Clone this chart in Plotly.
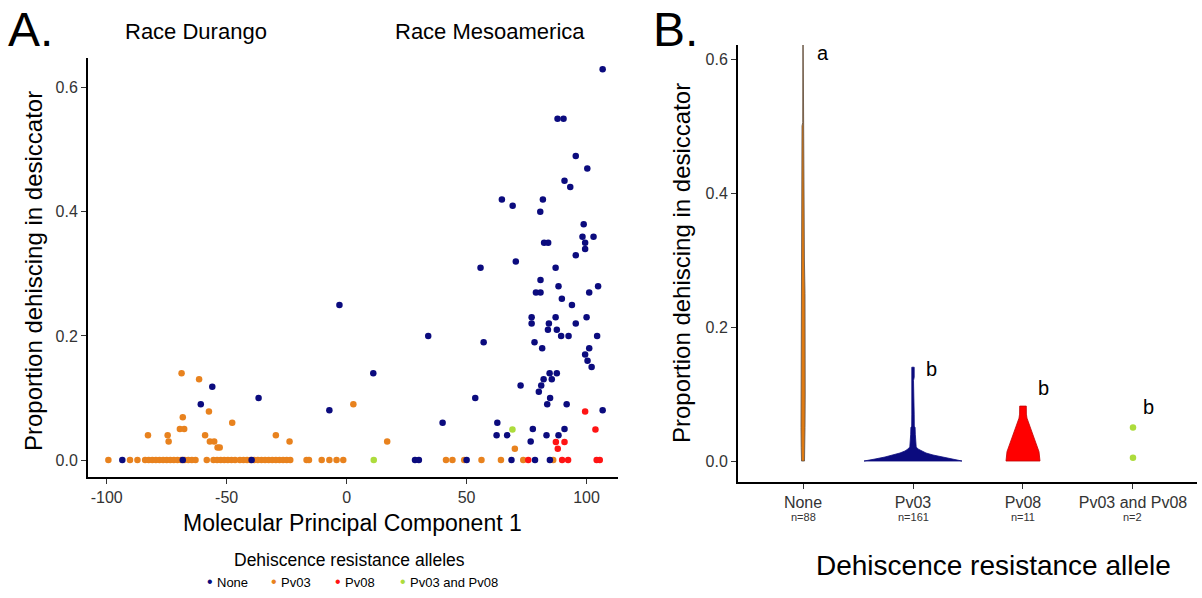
import plotly.graph_objects as go

FONT = "Liberation Sans, Arial, sans-serif"

# ---------------- Panel A data (PC1 vs proportion dehiscing) ----------------
none_pc1 = [-93.5, -68.3, -39.6, 28.5, 30.1, 50.0, 68.7, 78.5, 84.7,
            -56.0, -60.8, -36.7, -7.2, 11.1, -3.0, 34.0, 40.0, 53.6, 55.8, 57.1,
            62.8, 62.5, 66.9, 77.6, 76.7, 83.3, 88.3, 90.8, 106.7,
            72.5, 80.1, 81.1, 82.1, 85.5, 84.6, 87.6, 84.8, 83.6, 91.7,
            70.5, 87.1, 80.8, 78.9, 80.8, 88.3, 101.1, 104.8, 89.7, 93.9,
            77.1, 77.1, 87.1, 84.3, 83.9, 87.6, 95.5, 100.0, 89.4, 92.5, 104.4,
            78.3, 81.5, 101.1, 99.4, 100.4, 102.1, 95.5, 99.4,
            106.7, 87.9, 90.4, 95.5, 100.3, 90.8, 93.2, 64.7, 69.2, 81.8, 80.7,
            98.8, 98.3, 102.9, 99.4, 82.3, 84.0]
none_prop = [0.0, 0.0, 0.0, 0.0, 0.0, 0.0, 0.0, 0.0, 0.0,
             0.118, 0.09, 0.10, 0.08, 0.14, 0.25, 0.20, 0.06, 0.10, 0.31, 0.19,
             0.06, 0.04, 0.04, 0.05, 0.03, 0.04, 0.04, 0.05, 0.08,
             0.12, 0.11, 0.12, 0.13, 0.13, 0.14, 0.14, 0.10, 0.09, 0.09,
             0.32, 0.31, 0.29, 0.27, 0.27, 0.28, 0.27, 0.28, 0.26, 0.25,
             0.23, 0.22, 0.23, 0.22, 0.21, 0.21, 0.22, 0.23, 0.20, 0.20, 0.20,
             0.19, 0.18, 0.18, 0.17, 0.16, 0.15, 0.33, 0.34,
             0.63, 0.55, 0.55, 0.49, 0.47, 0.45, 0.44, 0.42, 0.41, 0.42, 0.40,
             0.38, 0.36, 0.36, 0.35, 0.35, 0.35]

pv03_pc1 = [-99.3, -90.3, -87.2,
            -84.0, -82.5, -81.0, -79.5, -78.0, -76.5, -75.0, -73.5, -72.0, -70.5, -69.0, -67.5, -66.0, -64.5, -63.0,
            -58.3, -55.5, -54.0, -52.5, -51.0, -49.5, -48.0, -46.5,
            -44.5, -43.0, -41.5, -40.0, -38.5, -37.0,
            -35.5, -34.0, -32.5, -31.0, -29.5, -28.0, -26.5, -25.0, -23.5,
            -16.7, -15.7, -10.4, -7.2, -4.2, -1.4,
            41.4, 44.1, 49.0, 56.2, 64.3, 73.6, 86.1,
            -68.8, -61.5, -57.4, -68.3, -69.5, -67.7, -47.7, -82.8, -74.6, -74.2,
            -59.0, -57.0, -55.2, -53.8, -52.9, -29.5, -23.8, 2.8, 16.9, 70.1]
pv03_prop = [0.0, 0.0, 0.0,
             0.0, 0.0, 0.0, 0.0, 0.0, 0.0, 0.0, 0.0, 0.0, 0.0, 0.0, 0.0, 0.0, 0.0, 0.0,
             0.0, 0.0, 0.0, 0.0, 0.0, 0.0, 0.0, 0.0,
             0.0, 0.0, 0.0, 0.0, 0.0, 0.0,
             0.0, 0.0, 0.0, 0.0, 0.0, 0.0, 0.0, 0.0, 0.0,
             0.0, 0.0, 0.0, 0.0, 0.0, 0.0,
             0.0, 0.0, 0.0, 0.0, 0.0, 0.0, 0.0,
             0.14, 0.13, 0.078, 0.069, 0.05, 0.05, 0.06, 0.04, 0.04, 0.03,
             0.04, 0.03, 0.03, 0.02, 0.02, 0.04, 0.03, 0.09, 0.03, 0.018]

pv08_pc1 = [75.7, 89.8, 92.3, 104.2, 105.5, 99.4, 103.7, 87.2, 90.8, 88.0]
pv08_prop = [0.0, 0.0, 0.0, 0.0, 0.0, 0.078, 0.049, 0.029, 0.029, 0.018]

both_pc1 = [11.3, 69.1]
both_prop = [0.0, 0.049]

pc1_ticks = [-100, -50, 0, 50, 100]
pc1_tick_labels = ["-100", "-50", "0", "50", "100"]
prop_ticks = [0.0, 0.2, 0.4, 0.6]

legend_labels = ["None", "Pv03", "Pv08", "Pv03 and Pv08"]
colors = {"None": "#0B0B7E", "Pv03": "#E8821E", "Pv08": "#FF1414", "Pv03 and Pv08": "#ADDC3C"}

# ---------------- Panel B data (violin density profiles) ----------------
categories = ["None", "Pv03", "Pv08", "Pv03 and Pv08"]
n_labels = ["n=88", "n=161", "n=11", "n=2"]
letters = ["a", "b", "b", "b"]

none_levels = [0.0, 0.02, 0.05, 0.10, 0.15, 0.20, 0.25, 0.30, 0.35, 0.40, 0.45, 0.50, 0.505, 0.55, 0.63]
none_density = [1.5, 1.8, 2.0, 2.2, 2.2, 2.2, 2.0, 1.4, 1.3, 1.2, 1.1, 1.0, 0.3, 0.2, 0.15]

pv03_levels = [0.0, 0.003, 0.006, 0.009, 0.012, 0.015, 0.018, 0.021, 0.03, 0.04, 0.05, 0.052,
               0.07, 0.09, 0.093, 0.12, 0.125, 0.14]
pv03_density = [49, 38, 28, 20, 13, 8, 5, 3.2, 2.6, 2.3, 2.1, 1.3, 1.2, 1.1, 0.5, 0.5, 1.2, 1.2]

pv08_levels = [0.0, 0.014, 0.064, 0.07, 0.082]
pv08_density = [17, 16, 4, 3.4, 3.3]

both_values = [0.05, 0.005]

DENSITY_TO_CAT = 1 / 110.0  # density units -> category-axis units

fig = go.Figure()

# Panel A scatter (draw order: Pv03 underneath, then None, Pv08, both)
for name, xs, ys in [("Pv03", pv03_pc1, pv03_prop), ("None", none_pc1, none_prop),
                     ("Pv08", pv08_pc1, pv08_prop), ("Pv03 and Pv08", both_pc1, both_prop)]:
    fig.add_trace(go.Scatter(x=xs, y=ys, mode="markers", name=name, showlegend=False,
                             marker=dict(color=colors[name], size=6.5, line=dict(width=0)),
                             xaxis="x", yaxis="y", cliponaxis=False))

# Panel B violins as filled density outlines
def violin(center, levels, dens, fill, line):
    xs = [center + d * DENSITY_TO_CAT for d in dens] + [center - d * DENSITY_TO_CAT for d in reversed(dens)]
    ys = list(levels) + list(reversed(levels))
    xs.append(xs[0]); ys.append(ys[0])
    return go.Scatter(x=xs, y=ys, mode="lines", fill="toself", fillcolor=fill,
                      line=dict(color=line, width=0.8), showlegend=False,
                      xaxis="x2", yaxis="y2", cliponaxis=False, hoverinfo="skip")

fig.add_trace(violin(0, none_levels, none_density, "#E07A10", "#5A4E44"))
fig.add_trace(violin(1, pv03_levels, pv03_density, "#0B0B7E", "#0B0B7E"))
fig.add_trace(violin(2, pv08_levels, pv08_density, "#FF0000", "#C00000"))
fig.add_trace(go.Scatter(x=[3] * len(both_values), y=both_values, mode="markers", showlegend=False,
                         marker=dict(color=colors["Pv03 and Pv08"], size=6.5),
                         xaxis="x2", yaxis="y2", cliponaxis=False))

axis_common = dict(showgrid=False, zeroline=False, showline=True, linecolor="black", linewidth=2,
                   ticks="outside", ticklen=5, tickwidth=1, tickcolor="#333333",
                   tickfont=dict(family=FONT, size=16, color="#333333"), automargin=False)

fig.update_layout(
    width=1202, height=598,
    margin=dict(l=0, r=0, t=0, b=0),
    paper_bgcolor="white", plot_bgcolor="white",
    showlegend=False,
    xaxis=dict(domain=[88 / 1202, 618 / 1202], range=[-107.8, 113.1],
               tickvals=pc1_ticks, ticktext=pc1_tick_labels, anchor="y", **axis_common),
    yaxis=dict(domain=[1 - 477 / 598, 1 - 58 / 598], range=[-0.0274, 0.648],
               tickvals=prop_ticks, tickformat=".1f", anchor="x", **axis_common),
    xaxis2=dict(domain=[738 / 1202, 1197 / 1202], range=[-0.591, 3.582],
                tickvals=[0, 1, 2, 3], ticktext=categories, anchor="y2", **axis_common),
    yaxis2=dict(domain=[1 - 482 / 598, 1 - 45 / 598], range=[-0.0313, 0.6209],
                tickvals=prop_ticks, tickformat=".1f", anchor="x2", **axis_common),
)

def ann(text, x, y, size, xref="paper", yref="paper", angle=0, color="black", xanchor="center", yanchor="middle"):
    fig.add_annotation(text=text, x=x, y=y, xref=xref, yref=yref, showarrow=False,
                       textangle=angle, xanchor=xanchor, yanchor=yanchor,
                       font=dict(family=FONT, size=size, color=color))

W, H = 1202.0, 598.0
# Panel labels and headers
ann("A.", 6 / W, 1 - 30 / H, 48, xanchor="left")
ann("B.", 651 / W, 1 - 30 / H, 48, xanchor="left")
ann("Race Durango", 196 / W, 1 - 32 / H, 22)
ann("Race Mesoamerica", 490 / W, 1 - 32 / H, 22)
# Axis titles
ann("Molecular Principal Component 1", 352 / W, 1 - 523 / H, 23)
ann("Proportion dehiscing in desiccator", 33 / W, 1 - 271 / H, 24, angle=-90)
ann("Proportion dehiscing in desiccator", 681 / W, 1 - 263 / H, 24, angle=-90)
ann("Dehiscence resistance allele", 993 / W, 1 - 565 / H, 28)

# Legend for panel A
ann("Dehiscence resistance alleles", 349 / W, 1 - 560 / H, 17.5)
legend_dot_x = [210, 274, 338, 403]
for lab, dx in zip(legend_labels, legend_dot_x):
    ann("\u2022", dx / W, 1 - 581 / H, 16, color=colors[lab])
    ann(lab, (dx + 5) / W, 1 - 582 / H, 13, xanchor="left")

# Panel B letters and sample sizes
letter_pos = [(0.179, 0.6085), (1.164, 0.138), (2.185, 0.1085), (3.139, 0.080)]
for txt, (lx, ly) in zip(letters, letter_pos):
    ann(txt, lx, ly, 20, xref="x2", yref="y2")
for i, nl in enumerate(n_labels):
    ann(nl, i, 1 - 517 / H, 11, xref="x2", color="#333333")

fig.write_html("out.html", config={"displayModeBar": False},
               post_script="document.body.style.margin='0px';")
